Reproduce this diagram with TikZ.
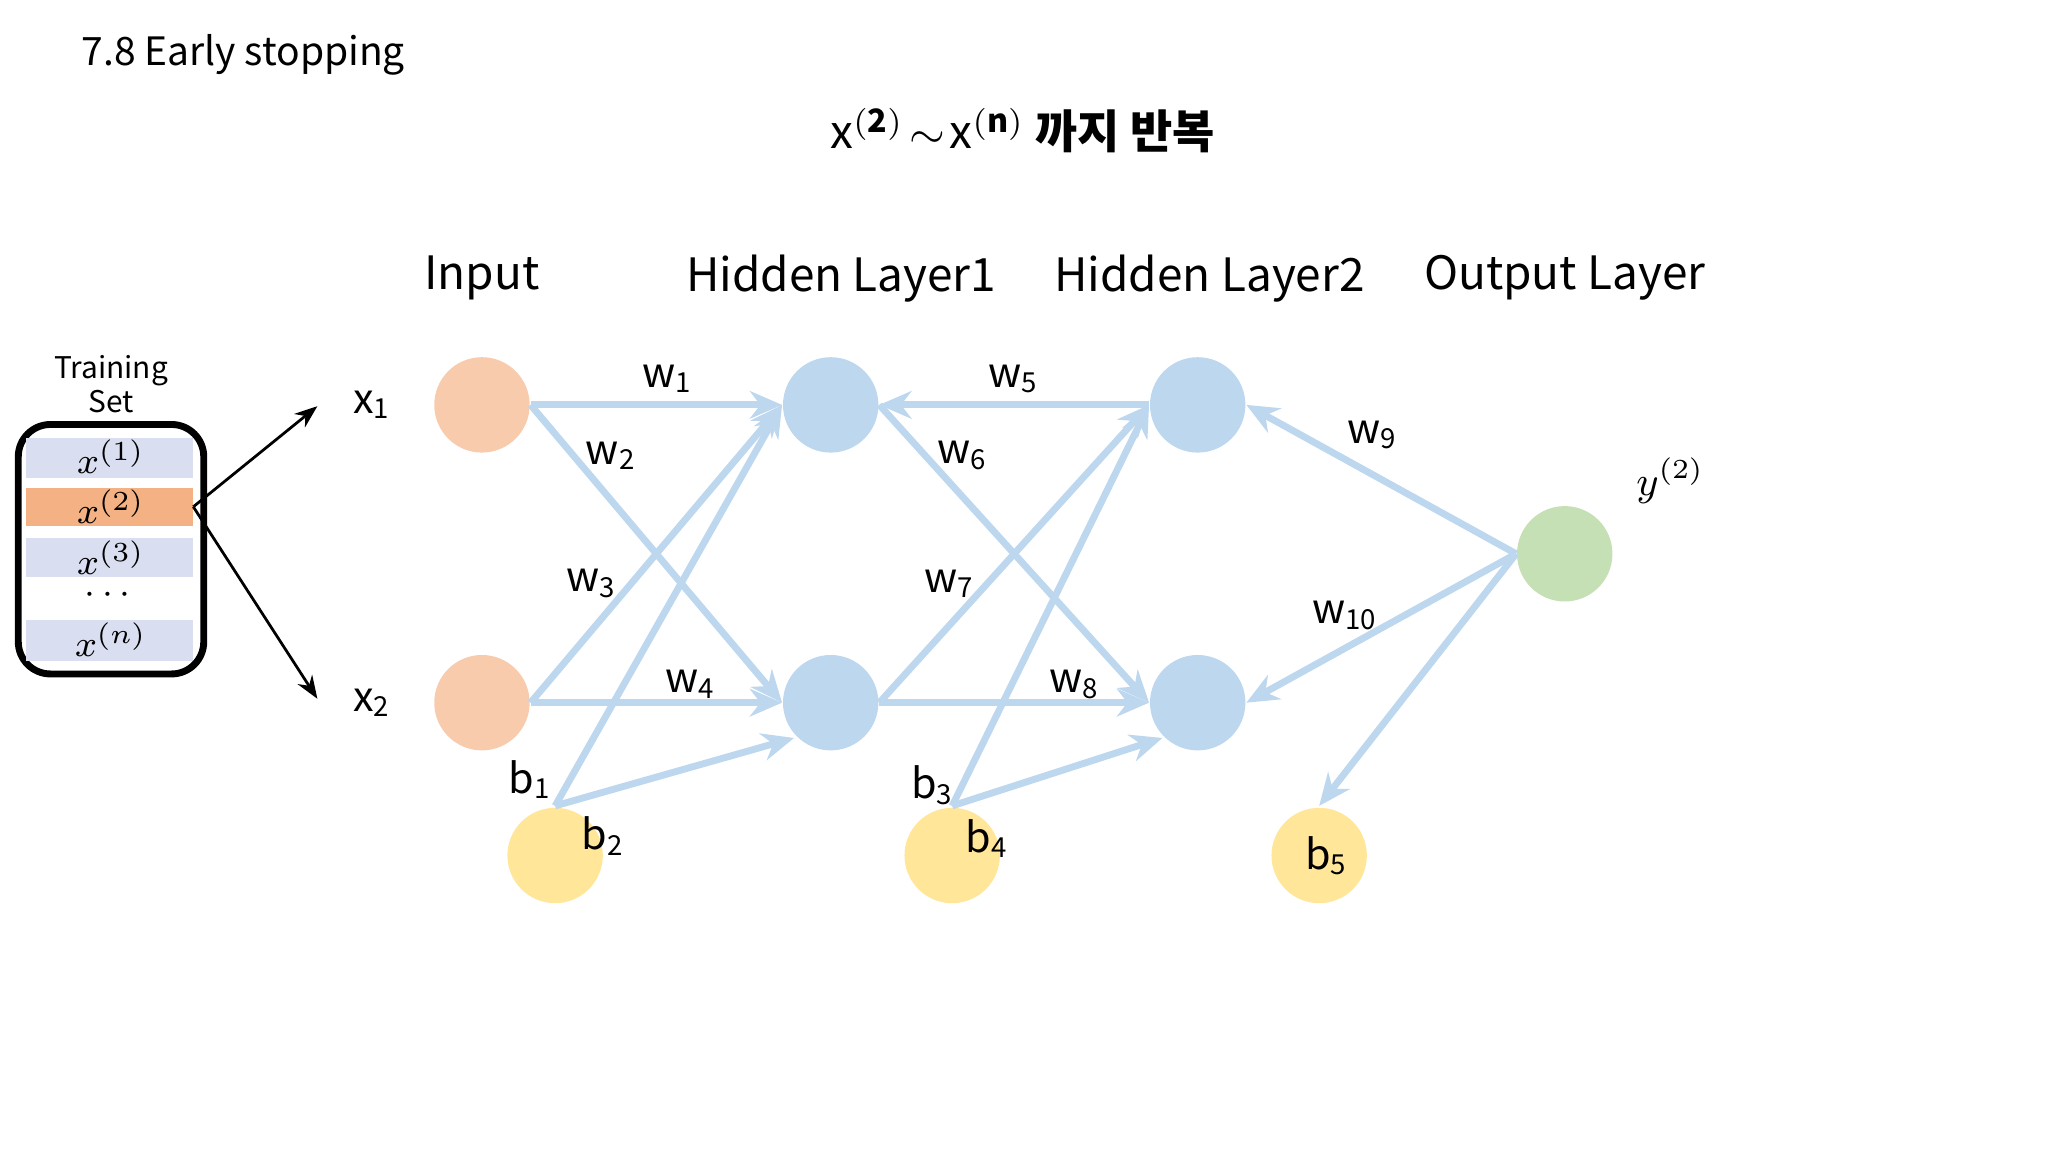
\documentclass[tikz,border=0pt]{standalone}
\usepackage{amsmath}
\usepackage{fontspec}
\setmainfont{Noto Sans CJK KR}
\usetikzlibrary{arrows.meta}
\definecolor{inorg}{HTML}{F8CBAD}
\definecolor{hblue}{HTML}{BDD7EE}
\definecolor{ogreen}{HTML}{C5E0B4}
\definecolor{byel}{HTML}{FFE699}
\definecolor{edge}{HTML}{BDD7EE}
\definecolor{row}{HTML}{D9DEF0}
\definecolor{rowsel}{HTML}{F4B183}
\begin{document}
\begin{tikzpicture}[x=0.01cm,y=-0.01cm,
  neuron/.style={circle,minimum size=0.73cm,inner sep=0pt,draw=none},
  e/.style={draw=edge,line width=1.5pt,-{Stealth[length=7pt,width=6pt]}},
  el/.style={font=\fontsize{9}{10}\selectfont},
  lay/.style={font=\fontsize{10}{12}\selectfont},
  rowc/.style={fill=row,draw=none}]
\useasboundingbox (0,0) rectangle (1568,882);
\node[anchor=west,font=\fontsize{8.5}{10}\selectfont] (title) at (50,42) {7.8 Early stopping};
\node[font=\bfseries\fontsize{10}{12}\selectfont] (head) at (783,100) {$\mathbf{\mathit{x}^{(2)}\!\sim\!\mathit{x}^{(n)}}$ 까지 반복};
\node[lay] (l1) at (369,213) {Input};
\node[lay] (l2) at (644,213) {Hidden Layer1};
\node[lay] (l3) at (926,213) {Hidden Layer2};
\node[lay] (l4) at (1198,213) {Output Layer};
% nodes
\node[neuron,fill=inorg] (i1) at (369,310) {};
\node[neuron,fill=inorg] (i2) at (369,538) {};
\node[neuron,fill=hblue] (h1) at (636,310) {};
\node[neuron,fill=hblue] (h2) at (636,538) {};
\node[neuron,fill=hblue] (g1) at (917,310) {};
\node[neuron,fill=hblue] (g2) at (917,538) {};
\node[neuron,fill=ogreen] (o) at (1198,424) {};
\node[neuron,fill=byel] (bb1) at (425,655) {};
\node[neuron,fill=byel] (bb2) at (729,655) {};
\node[neuron,fill=byel] (bb3) at (1010,655) {};
\coordinate (t1) at (425,617);
\coordinate (t2) at (729,617);
\coordinate (t5) at (1010,617);
\coordinate (p1) at (608,565);
\coordinate (p2) at (890,565);
% edges
\draw[e] (i1.east) -- (h1.west);
\draw[e] (i1.east) -- (h2.west);
\draw[e] (i2.east) -- (h1.west);
\draw[e] (i2.east) -- (h2.west);
\draw[e] (t1) -- (h1.west);
\draw[e] (t1) -- (p1);
\draw[e] (g1.west) -- (h1.east);
\draw[e] (h1.east) -- (g2.west);
\draw[e] (h2.east) -- (g1.west);
\draw[e] (h2.east) -- (g2.west);
\draw[e] (t2) -- (g1.west);
\draw[e] (t2) -- (p2);
\draw[e] (o.west) -- (g1.east);
\draw[e] (o.west) -- (g2.east);
\draw[e] (o.west) -- (t5);
% labels
\node[el] (w1) at (511,290) {w\textsubscript{1}};
\node[el] (w2) at (468,349) {w\textsubscript{2}};
\node[el] (w3) at (453,447) {w\textsubscript{3}};
\node[el] (w4) at (529,524) {w\textsubscript{4}};
\node[el] (w5) at (776,290) {w\textsubscript{5}};
\node[el] (w6) at (737,349) {w\textsubscript{6}};
\node[el] (w7) at (727,447) {w\textsubscript{7}};
\node[el] (w8) at (823,524) {w\textsubscript{8}};
\node[el] (w9) at (1051,333) {w\textsubscript{9}};
\node[el] (w10) at (1030,471) {w\textsubscript{10}};
\node[el] (lb1) at (406,597) {b\textsubscript{1}};
\node[el] (lb2) at (462,640) {b\textsubscript{2}};
\node[el] (lb3) at (714,601) {b\textsubscript{3}};
\node[el] (lb4) at (756,642) {b\textsubscript{4}};
\node[el] (lb5) at (1016,655) {b\textsubscript{5}};
\node[el] (x1) at (285,310) {x\textsubscript{1}};
\node[el] (x2) at (285,538) {x\textsubscript{2}};
\node[font=\fontsize{9}{10}\selectfont] (y) at (1279,368) {$y^{(2)}$};
% training set
\node[align=center,font=\fontsize{6.5}{7.5}\selectfont] (ts) at (85,294) {Training\\Set};
\draw[line width=1.5pt,rounded corners=7pt] (14,325) rectangle (156,516);
\fill[row] (20,335) rectangle (148,366);
\fill[rowsel] (20,374) rectangle (148,403);
\fill[row] (20,412) rectangle (148,442);
\fill[row] (20,475) rectangle (148,506);
\node[font=\fontsize{8}{9}\selectfont] (r1) at (85,350) {$x^{(1)}$};
\node[font=\fontsize{8}{9}\selectfont] (r2) at (85,388) {$x^{(2)}$};
\node[font=\fontsize{8}{9}\selectfont] (r3) at (85,427) {$x^{(3)}$};
\node[font=\fontsize{8}{9}\selectfont] (rd) at (85,456) {$\cdots$};
\node[font=\fontsize{8}{9}\selectfont] (rn) at (85,490) {$x^{(n)}$};
\coordinate (s) at (148,388);
\coordinate (a1) at (243,311);
\coordinate (a2) at (243,535);
\draw[-{Stealth[length=5pt]},line width=0.6pt] (s) -- (a1);
\draw[-{Stealth[length=5pt]},line width=0.6pt] (s) -- (a2);
\end{tikzpicture}
\end{document}
